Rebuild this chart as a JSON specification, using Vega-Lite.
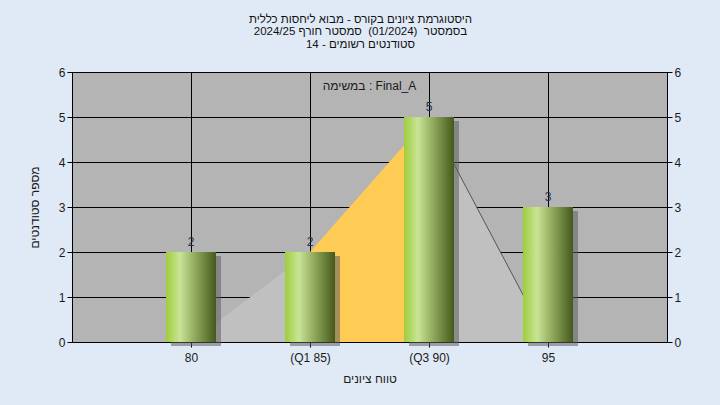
{
  "$schema": "https://vega.github.io/schema/vega-lite/v6.json",
  "width": 595,
  "height": 270,
  "autosize": {"type": "none"},
  "padding": {"left": 72, "top": 72, "right": 53, "bottom": 63},
  "background": "#e0eaf6",
  "title": {
    "text": ["היסטוגרמת ציונים בקורס - מבוא ליחסות כללית", "בסמסטר \u00a0(01/2024) \u00a0סמסטר חורף 2024/25", "סטודנטים רשומים - 14"],
    "fontSize": 11.5,
    "fontWeight": "normal",
    "lineHeight": 12.5,
    "color": "#111111",
    "anchor": "middle",
    "frame": "group",
    "dx": -9,
    "offset": 16
  },
  "config": {
    "font": "Liberation Sans",
    "view": {"fill": "#b4b4b4", "stroke": "black", "strokeWidth": 1},
    "axis": {
      "domainColor": "black",
      "tickColor": "black",
      "gridColor": "black",
      "gridOpacity": 1,
      "gridWidth": 1,
      "labelFontSize": 12,
      "labelColor": "#1a1a1a",
      "titleFontSize": 12,
      "titleFontWeight": "normal",
      "titleColor": "#1a1a1a",
      "tickSize": 5,
      "labelPadding": 2
    }
  },
  "datasets": {
    "bars": [
      {"score": 80, "count": 2},
      {"score": 85, "count": 2},
      {"score": 90, "count": 5},
      {"score": 95, "count": 3}
    ],
    "curve": [
      {"score": 80, "count": 0, "part": "low"},
      {"score": 85, "count": 2, "part": "low"},
      {"score": 85, "count": 2, "part": "mid"},
      {"score": 90, "count": 5, "part": "mid"},
      {"score": 90, "count": 5, "part": "high"},
      {"score": 95, "count": 0, "part": "high"}
    ]
  },
  "resolve": {"axis": {"y": "independent"}},
  "layer": [
    {
      "data": {"name": "curve"},
      "mark": {"type": "area", "opacity": 1},
      "encoding": {
        "x": {
          "field": "score",
          "type": "quantitative",
          "scale": {"domain": [75, 100], "nice": false, "zero": false, "padding": 0},
          "axis": {
            "values": [80, 85, 90, 95],
            "labelExpr": "datum.value == 85 ? '(Q1 85)' : datum.value == 90 ? '(Q3 90)' : datum.label",
            "title": "טווח ציונים",
            "labelPadding": 5,
            "titlePadding": 10,
            "grid": true
          }
        },
        "y": {
          "field": "count",
          "type": "quantitative",
          "stack": null,
          "scale": {"domain": [0, 6], "nice": false},
          "axis": {
            "orient": "left",
            "values": [0, 1, 2, 3, 4, 5, 6],
            "title": "מספר סטודנטים",
            "titlePadding": 17,
            "grid": true
          }
        },
        "color": {
          "field": "part",
          "type": "nominal",
          "scale": {"domain": ["low", "mid", "high"], "range": ["#c0c0c0", "#fecb55", "#c0c0c0"]},
          "legend": null
        }
      }
    },
    {
      "data": {"name": "curve"},
      "transform": [{"filter": "datum.part == 'high'"}],
      "mark": {"type": "line", "color": "#555555", "strokeWidth": 1},
      "encoding": {
        "x": {"field": "score", "type": "quantitative"},
        "y": {"field": "count", "type": "quantitative", "stack": null, "axis": null}
      }
    },
    {
      "data": {"name": "bars"},
      "mark": {"type": "bar", "width": 50, "xOffset": 5, "yOffset": 4, "fill": "#5e5e5e", "opacity": 0.55},
      "encoding": {
        "x": {"field": "score", "type": "quantitative"},
        "y": {"field": "count", "type": "quantitative", "axis": null}
      }
    },
    {
      "data": {"name": "bars"},
      "mark": {
        "type": "bar",
        "width": 50,
        "fill": {
          "gradient": "linear",
          "x1": 0, "y1": 0, "x2": 1, "y2": 0,
          "stops": [
            {"offset": 0, "color": "#9fcd3c"},
            {"offset": 0.28, "color": "#c9e496"},
            {"offset": 0.6, "color": "#8da65a"},
            {"offset": 1, "color": "#45591c"}
          ]
        }
      },
      "encoding": {
        "x": {"field": "score", "type": "quantitative"},
        "y": {
          "field": "count",
          "type": "quantitative",
          "axis": {"orient": "right", "values": [0, 1, 2, 3, 4, 5, 6], "title": null, "grid": false}
        }
      }
    },
    {
      "data": {"name": "bars"},
      "mark": {"type": "text", "baseline": "bottom", "dy": -3, "fontSize": 12, "color": "#22334f"},
      "encoding": {
        "x": {"field": "score", "type": "quantitative"},
        "y": {"field": "count", "type": "quantitative", "axis": null},
        "text": {"field": "count", "type": "quantitative"}
      }
    },
    {
      "data": {"values": [{"label": "במשימה : Final_A"}]},
      "mark": {"type": "text", "fontSize": 12, "color": "#1a1a1a", "baseline": "middle"},
      "encoding": {
        "x": {"datum": 87.5, "type": "quantitative"},
        "y": {"datum": 5.7, "type": "quantitative", "axis": null},
        "text": {"field": "label"}
      }
    }
  ]
}
